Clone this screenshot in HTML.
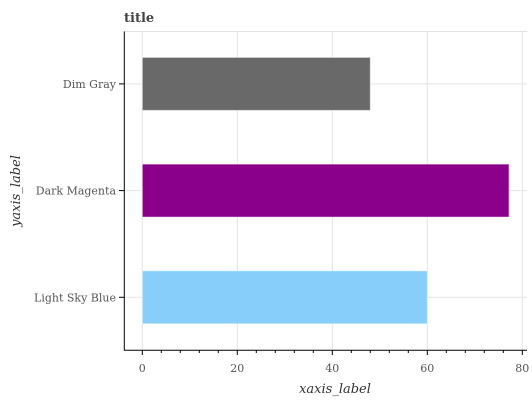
<!DOCTYPE html>
<html><head><meta charset="utf-8"><style>
body{margin:0;background:#fff}
svg text{font-family:"DejaVu Serif","Liberation Serif",serif}
</style></head><body>
<svg width="532" height="400">
<g id="grid"></g>
<g id="bars"></g>
<g id="axes"></g>
<text x="124" y="22" font-size="13" font-weight="bold" fill="#444">title</text>
<text x="335" y="393" font-size="13" font-style="italic" fill="#333" text-anchor="middle">xaxis_label</text>
<text x="0" y="0" font-size="13" font-style="italic" fill="#333" text-anchor="middle" transform="translate(20,191) rotate(-90)">yaxis_label</text>
</svg>
<script>
const categories=["Light Sky Blue","Dark Magenta","Dim Gray"];
const values=[60,77.2,48];
const colors=["#87cefa","#8b008b","#696969"];
const xTicks=[0,20,40,60,80];
const NS="http://www.w3.org/2000/svg";
const x=v=>142.3+v*4.75;
const yc=i=>297.3-i*106.7;
function mk(t,a,p){const e=document.createElementNS(NS,t);for(const k in a)e.setAttribute(k,a[k]);p.appendChild(e);return e;}
const grid=document.getElementById('grid'),bars=document.getElementById('bars'),axes=document.getElementById('axes');
const tg=mk('line',{x1:124,x2:527,y1:31.5,y2:31.5,stroke:'#e3e3e3'},grid);


xTicks.forEach(t=>{const l=mk('line',{x1:x(t),x2:x(t),y1:31.5,y2:350,stroke:'#e3e3e3'},grid);

});
categories.forEach((c,i)=>{const l=mk('line',{x1:124,x2:527,y1:yc(i),y2:yc(i),stroke:'#e3e3e3'},grid);

});
categories.forEach((c,i)=>{const r=mk('rect',{x:x(0),y:yc(i)-26.5,width:x(values[i])-x(0),height:53,fill:colors[i],stroke:'rgba(255,255,255,0.5)'},bars);


const tk=mk('line',{x1:119,x2:124,y1:yc(i),y2:yc(i),stroke:'#000'},axes);


const tx=mk('text',{x:116,y:yc(i)+4,'font-size':11,fill:'#555','text-anchor':'end'},axes);tx.textContent=c;

});
for(let v=0;v<=80;v+=4){const big=v%20===0;const l=mk('line',{x1:x(v),x2:x(v),y1:350,y2:big?355:353,stroke:'#000'},axes);

}
xTicks.forEach(t=>{const tx=mk('text',{x:x(t),y:372,'font-size':11,fill:'#555','text-anchor':'middle'},axes);tx.textContent=t;

});
const ya=mk('line',{x1:124.3,x2:124.3,y1:31.5,y2:350.5,stroke:'#000'},axes);


const xa=mk('line',{x1:124,x2:527,y1:350.3,y2:350.3,stroke:'#000'},axes);


</script>
</body></html>
